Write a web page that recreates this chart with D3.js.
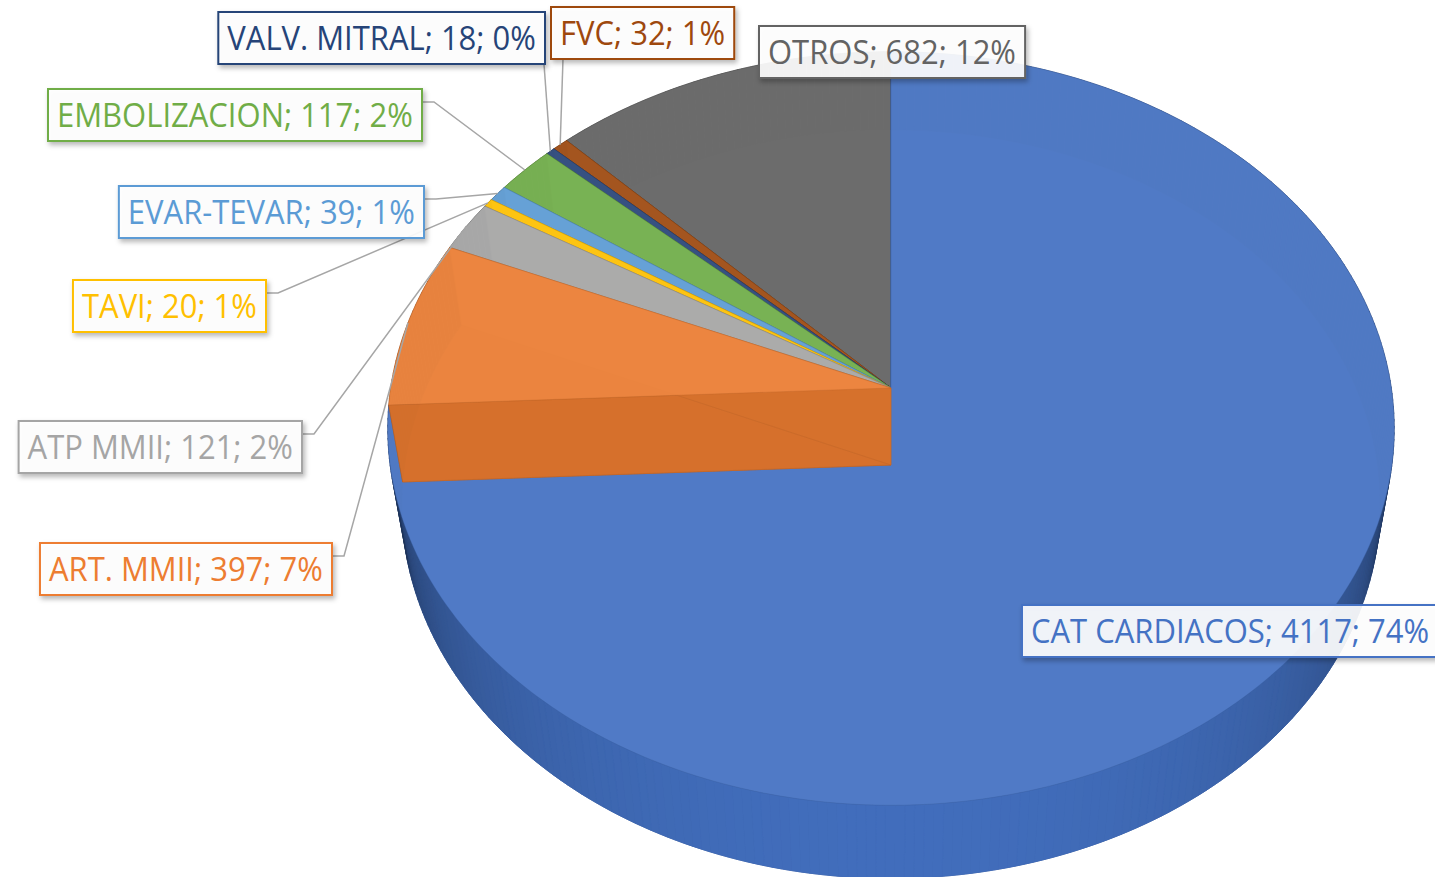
<!DOCTYPE html>
<html lang="es">
<head>
<meta charset="UTF-8">
<title>Procedimientos - gráfico circular 3D</title>
<style>
  html, body { margin: 0; padding: 0; background: #fff; }
  svg { display: block; }
  .lbl text { font-family: "Open Sans", "DejaVu Sans", sans-serif; }
  .leader { fill: none; stroke: #a6a6a6; stroke-width: 1.5px; }
</style>
</head>
<body>
<svg width="1435" height="877"></svg>
<script src="https://d3js.org/d3.v7.min.js"></script>
<script>
// data
const categories = ["CAT CARDIACOS", "ART. MMII", "ATP MMII", "TAVI", "EVAR-TEVAR", "EMBOLIZACION", "VALV. MITRAL", "FVC", "OTROS"];
const values = [4117, 397, 121, 20, 39, 117, 18, 32, 682];
const percents = ["74%", "7%", "2%", "1%", "1%", "2%", "0%", "1%", "12%"];
const colors = ["#4472C4", "#ED7D31", "#A5A5A5", "#FFC000", "#5B9BD5", "#70AD47", "#264478", "#9E480E", "#636363"];

// label box placement: side = which edge the x refers to
const boxes = [
  {x: 1022, y: 605, side: "left"},
  {x: 332, y: 543, side: "right", lead: "side"},
  {x: 302, y: 421, side: "right", lead: "side"},
  {x: 266, y: 280, side: "right", lead: "side"},
  {x: 424, y: 186, side: "right", lead: "side"},
  {x: 422, y: 89, side: "right", lead: "side"},
  {x: 545, y: 12, side: "right", lead: "bottom", lx: 544},
  {x: 551, y: 7, side: "left", lead: "bottom", lx: 563},
  {x: 759, y: 26, side: "left"}
];

const svg = d3.select("svg");

// shadow for the label boxes
const defs = svg.append("defs");
defs.append("filter").attr("id", "shadow")
    .attr("x", "-10%").attr("y", "-20%").attr("width", "130%").attr("height", "160%")
  .append("feDropShadow")
    .attr("dx", 2).attr("dy", 3).attr("stdDeviation", 2.5)
    .attr("flood-color", "#000").attr("flood-opacity", 0.3);

const arcs = d3.pie().sort(null).value(d => d)(values);

// perspective camera looking down on the pie
const cx = 891, cy = 388;
const focal = 3107, dist = 6.21, depth = 0.237;
const tilt = 48.1 * Math.PI / 180;
const sT = Math.sin(tilt), cT = Math.cos(tilt);

function project(X, Y, Z) {
  const zc = Z * cT + Y * sT, yc = Y * cT - Z * sT;
  const k = focal / (dist - zc);
  return [cx + X * k, cy - yc * k];
}
const rim = (a, y) => project(Math.sin(a), y, -Math.cos(a));
const apex = y => project(0, y, 0);
const step = Math.PI / 180;

function arcPts(a0, a1, y) {
  const n = Math.max(1, Math.ceil((a1 - a0) / step));
  return d3.range(n + 1).map(i => rim(a0 + (a1 - a0) * i / n, y));
}
const poly = pts => d3.line()(pts) + "Z";

const camPos = [0, dist * sT, dist * cT];
function facing(a) {
  const p = [Math.sin(a), -depth / 2, -Math.cos(a)];
  const v = camPos.map((c, i) => c - p[i]);
  return (Math.sin(a) * v[0] - Math.cos(a) * v[2]) / Math.hypot(...v);
}
const maxFacing = facing(Math.PI);

// back slices first, the cut-out orange one last (like the original render)
const order = [8, 7, 6, 5, 4, 3, 2, 0, 1];
const pieG = svg.append("g");

order.forEach(i => {
  const a0 = arcs[i].startAngle, a1 = arcs[i].endAngle;
  const base = d3.color(colors[i]);
  const g = pieG.append("g");
  const edge = base.darker(0.6).formatHex();

  g.append("path")
    .attr("d", poly([apex(-depth), ...arcPts(a0, a1, -depth)]))
    .attr("fill", base.darker(0.45)).attr("stroke", edge).attr("stroke-width", 0.8);

  const n = Math.max(1, Math.ceil((a1 - a0) / step));
  const segs = d3.range(n).map(j => {
    const s0 = a0 + (a1 - a0) * j / n, s1 = a0 + (a1 - a0) * (j + 1) / n;
    const f = facing((s0 + s1) / 2);
    let col;
    if (f <= 0) col = base.darker(1.2);
    else col = d3.interpolateRgb(base.darker(2.6), base.darker(0.12))(Math.pow(f / maxFacing, 0.45));
    return {pts: [rim(s0, 0), rim(s1, 0), rim(s1, -depth), rim(s0, -depth)], f, col};
  });

  const drawWall = list => g.selectAll(null).data(list).join("path")
    .attr("d", d => poly(d.pts))
    .attr("fill", d => d.col).attr("stroke", d => d.col).attr("stroke-width", 0.6);

  drawWall(segs.filter(d => d.f <= 0));

  [a0, a1].forEach(a => {
    g.append("path")
      .attr("d", poly([apex(0), rim(a, 0), rim(a, -depth), apex(-depth)]))
      .attr("fill", base.darker(0.28)).attr("fill-opacity", 0.95)
      .attr("stroke", edge).attr("stroke-width", 0.8).attr("stroke-opacity", 0.6);
  });

  drawWall(segs.filter(d => d.f > 0));

  g.append("path")
    .attr("d", poly([apex(0), ...arcPts(a0, a1, 0)]))
    .attr("fill", d3.interpolateRgb(colors[i], "#fff")(0.08)).attr("fill-opacity", 0.92)
    .attr("stroke", edge).attr("stroke-width", 0.8).attr("stroke-opacity", 0.45);
});

// labels
const labelText = categories.map((c, i) => `${c}; ${values[i]}; ${percents[i]}`);

// Calibri-like: tall caps, narrow advance -> squeeze the text horizontally
const fontSize = 33;
const probe = svg.append("text").attr("font-family", "Open Sans, DejaVu Sans, sans-serif")
  .attr("font-size", fontSize).text(labelText[5]);
const squeeze = 356 / probe.node().getComputedTextLength();
probe.remove();

const pad = 9, boxH = 52;
const lblG = svg.append("g");

arcs.forEach((d, i) => {
  const b = boxes[i];
  const g = lblG.append("g").attr("class", "lbl");
  const t = g.append("text")
    .attr("font-size", fontSize)
    .attr("fill", colors[i])
    .attr("dy", "0.36em")
    .text(labelText[i]);
  const w = t.node().getComputedTextLength() * squeeze + pad * 2;
  const x0 = b.side === "left" ? b.x : b.x - w;
  t.attr("transform", `translate(${x0 + pad},${b.y + boxH / 2}) scale(${squeeze},1)`);
  g.insert("rect", "text")
    .attr("x", x0).attr("y", b.y).attr("width", w).attr("height", boxH)
    .attr("fill", "#fff").attr("fill-opacity", 0.9)
    .attr("stroke", colors[i]).attr("stroke-width", 2)
    .attr("filter", "url(#shadow)");

  if (b.lead) {
    const mid = rim((d.startAngle + d.endAngle) / 2, 0);
    let pts;
    if (b.lead === "side") pts = [[b.x, b.y + 13], [b.x + 12, b.y + 13], mid];
    else pts = [[b.lx, b.y + boxH], mid];
    lblG.insert("path", ":first-child").attr("class", "leader").attr("d", d3.line()(pts));
  }
});
</script>
</body>
</html>
